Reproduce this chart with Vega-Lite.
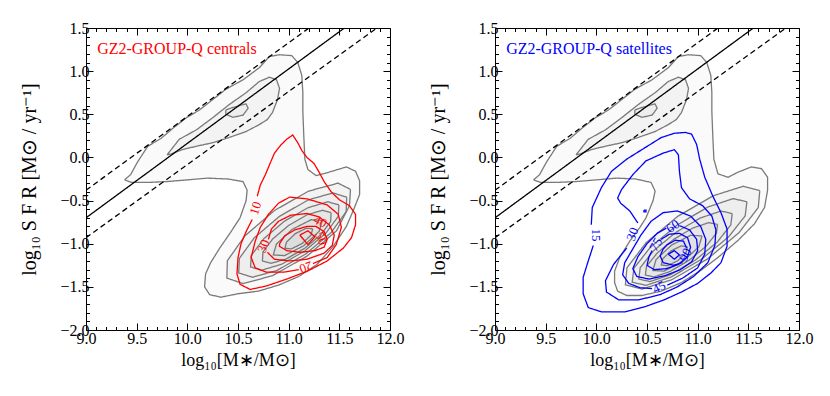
{
"$schema": "https://vega.github.io/schema/vega-lite/v6.json",
"padding": {"left": 19, "top": 19, "right": 5, "bottom": 5},
"background": "white",
"spacing": 23,
"config": {"view": {"stroke": "#000", "strokeWidth": 1}, "font": "Liberation Serif"},
"datasets": {
"lines": [
{"p":"L","g":"L1","k":"gray","v":1,"x":9.38,"y":-0.26},{"p":"L","g":"L1","k":"gray","v":1,"x":9.44,"y":-0.20},{"p":"L","g":"L1","k":"gray","v":1,"x":9.51,"y":-0.05},{"p":"L","g":"L1","k":"gray","v":1,"x":9.61,"y":0.13},{"p":"L","g":"L1","k":"gray","v":1,"x":9.74,"y":0.22},{"p":"L","g":"L1","k":"gray","v":1,"x":9.86,"y":0.34},{"p":"L","g":"L1","k":"gray","v":1,"x":9.99,"y":0.46},{"p":"L","g":"L1","k":"gray","v":1,"x":10.12,"y":0.55},{"p":"L","g":"L1","k":"gray","v":1,"x":10.25,"y":0.67},{"p":"L","g":"L1","k":"gray","v":1,"x":10.38,"y":0.79},{"p":"L","g":"L1","k":"gray","v":1,"x":10.55,"y":0.90},{"p":"L","g":"L1","k":"gray","v":1,"x":10.71,"y":1.04},{"p":"L","g":"L1","k":"gray","v":1,"x":10.81,"y":1.17},{"p":"L","g":"L1","k":"gray","v":1,"x":10.91,"y":1.19},{"p":"L","g":"L1","k":"gray","v":1,"x":11.03,"y":1.18},{"p":"L","g":"L1","k":"gray","v":1,"x":11.09,"y":1.10},{"p":"L","g":"L1","k":"gray","v":1,"x":11.13,"y":0.95},{"p":"L","g":"L1","k":"gray","v":1,"x":11.14,"y":0.75},{"p":"L","g":"L1","k":"gray","v":1,"x":11.14,"y":0.53},{"p":"L","g":"L1","k":"gray","v":1,"x":11.15,"y":0.23},{"p":"L","g":"L1","k":"gray","v":1,"x":11.16,"y":-0.02},{"p":"L","g":"L1","k":"gray","v":1,"x":11.19,"y":-0.14},{"p":"L","g":"L1","k":"gray","v":1,"x":11.27,"y":-0.21},{"p":"L","g":"L1","k":"gray","v":1,"x":11.40,"y":-0.17},{"p":"L","g":"L1","k":"gray","v":1,"x":11.57,"y":-0.11},{"p":"L","g":"L1","k":"gray","v":1,"x":11.66,"y":-0.16},{"p":"L","g":"L1","k":"gray","v":1,"x":11.70,"y":-0.27},{"p":"L","g":"L1","k":"gray","v":1,"x":11.70,"y":-0.43},{"p":"L","g":"L1","k":"gray","v":1,"x":11.65,"y":-0.58},{"p":"L","g":"L1","k":"gray","v":1,"x":11.57,"y":-0.80},{"p":"L","g":"L1","k":"gray","v":1,"x":11.44,"y":-1.03},{"p":"L","g":"L1","k":"gray","v":1,"x":11.28,"y":-1.24},{"p":"L","g":"L1","k":"gray","v":1,"x":11.10,"y":-1.38},{"p":"L","g":"L1","k":"gray","v":1,"x":10.90,"y":-1.48},{"p":"L","g":"L1","k":"gray","v":1,"x":10.70,"y":-1.55},{"p":"L","g":"L1","k":"gray","v":1,"x":10.50,"y":-1.58},{"p":"L","g":"L1","k":"gray","v":1,"x":10.33,"y":-1.62},{"p":"L","g":"L1","k":"gray","v":1,"x":10.22,"y":-1.59},{"p":"L","g":"L1","k":"gray","v":1,"x":10.17,"y":-1.50},{"p":"L","g":"L1","k":"gray","v":1,"x":10.18,"y":-1.35},{"p":"L","g":"L1","k":"gray","v":1,"x":10.23,"y":-1.22},{"p":"L","g":"L1","k":"gray","v":1,"x":10.32,"y":-1.05},{"p":"L","g":"L1","k":"gray","v":1,"x":10.42,"y":-0.88},{"p":"L","g":"L1","k":"gray","v":1,"x":10.52,"y":-0.70},{"p":"L","g":"L1","k":"gray","v":1,"x":10.58,"y":-0.50},{"p":"L","g":"L1","k":"gray","v":1,"x":10.59,"y":-0.38},{"p":"L","g":"L1","k":"gray","v":1,"x":10.55,"y":-0.28},{"p":"L","g":"L1","k":"gray","v":1,"x":10.40,"y":-0.25},{"p":"L","g":"L1","k":"gray","v":1,"x":10.20,"y":-0.24},{"p":"L","g":"L1","k":"gray","v":1,"x":10.00,"y":-0.26},{"p":"L","g":"L1","k":"gray","v":1,"x":9.80,"y":-0.28},{"p":"L","g":"L1","k":"gray","v":1,"x":9.60,"y":-0.29},{"p":"L","g":"L1","k":"gray","v":1,"x":9.45,"y":-0.29},{"p":"L","g":"L1","k":"gray","v":1,"x":9.38,"y":-0.26},
{"p":"R","g":"R1","k":"gray","v":1,"x":9.38,"y":-0.26},{"p":"R","g":"R1","k":"gray","v":1,"x":9.44,"y":-0.20},{"p":"R","g":"R1","k":"gray","v":1,"x":9.51,"y":-0.05},{"p":"R","g":"R1","k":"gray","v":1,"x":9.61,"y":0.13},{"p":"R","g":"R1","k":"gray","v":1,"x":9.74,"y":0.22},{"p":"R","g":"R1","k":"gray","v":1,"x":9.86,"y":0.34},{"p":"R","g":"R1","k":"gray","v":1,"x":9.99,"y":0.46},{"p":"R","g":"R1","k":"gray","v":1,"x":10.12,"y":0.55},{"p":"R","g":"R1","k":"gray","v":1,"x":10.25,"y":0.67},{"p":"R","g":"R1","k":"gray","v":1,"x":10.38,"y":0.79},{"p":"R","g":"R1","k":"gray","v":1,"x":10.55,"y":0.90},{"p":"R","g":"R1","k":"gray","v":1,"x":10.71,"y":1.04},{"p":"R","g":"R1","k":"gray","v":1,"x":10.81,"y":1.17},{"p":"R","g":"R1","k":"gray","v":1,"x":10.91,"y":1.19},{"p":"R","g":"R1","k":"gray","v":1,"x":11.03,"y":1.18},{"p":"R","g":"R1","k":"gray","v":1,"x":11.09,"y":1.10},{"p":"R","g":"R1","k":"gray","v":1,"x":11.13,"y":0.95},{"p":"R","g":"R1","k":"gray","v":1,"x":11.14,"y":0.75},{"p":"R","g":"R1","k":"gray","v":1,"x":11.14,"y":0.53},{"p":"R","g":"R1","k":"gray","v":1,"x":11.15,"y":0.23},{"p":"R","g":"R1","k":"gray","v":1,"x":11.16,"y":-0.02},{"p":"R","g":"R1","k":"gray","v":1,"x":11.20,"y":-0.19},{"p":"R","g":"R1","k":"gray","v":1,"x":11.30,"y":-0.23},{"p":"R","g":"R1","k":"gray","v":1,"x":11.40,"y":-0.17},{"p":"R","g":"R1","k":"gray","v":1,"x":11.53,"y":-0.11},{"p":"R","g":"R1","k":"gray","v":1,"x":11.63,"y":-0.13},{"p":"R","g":"R1","k":"gray","v":1,"x":11.69,"y":-0.23},{"p":"R","g":"R1","k":"gray","v":1,"x":11.69,"y":-0.38},{"p":"R","g":"R1","k":"gray","v":1,"x":11.66,"y":-0.58},{"p":"R","g":"R1","k":"gray","v":1,"x":11.56,"y":-0.77},{"p":"R","g":"R1","k":"gray","v":1,"x":11.40,"y":-0.96},{"p":"R","g":"R1","k":"gray","v":1,"x":11.20,"y":-1.16},{"p":"R","g":"R1","k":"gray","v":1,"x":11.03,"y":-1.31},{"p":"R","g":"R1","k":"gray","v":1,"x":10.84,"y":-1.45},{"p":"R","g":"R1","k":"gray","v":1,"x":10.64,"y":-1.55},{"p":"R","g":"R1","k":"gray","v":1,"x":10.45,"y":-1.60},{"p":"R","g":"R1","k":"gray","v":1,"x":10.30,"y":-1.60},{"p":"R","g":"R1","k":"gray","v":1,"x":10.21,"y":-1.55},{"p":"R","g":"R1","k":"gray","v":1,"x":10.18,"y":-1.45},{"p":"R","g":"R1","k":"gray","v":1,"x":10.18,"y":-1.32},{"p":"R","g":"R1","k":"gray","v":1,"x":10.23,"y":-1.16},{"p":"R","g":"R1","k":"gray","v":1,"x":10.33,"y":-0.97},{"p":"R","g":"R1","k":"gray","v":1,"x":10.43,"y":-0.81},{"p":"R","g":"R1","k":"gray","v":1,"x":10.49,"y":-0.70},{"p":"R","g":"R1","k":"gray","v":1,"x":10.56,"y":-0.50},{"p":"R","g":"R1","k":"gray","v":1,"x":10.58,"y":-0.39},{"p":"R","g":"R1","k":"gray","v":1,"x":10.54,"y":-0.29},{"p":"R","g":"R1","k":"gray","v":1,"x":10.39,"y":-0.25},{"p":"R","g":"R1","k":"gray","v":1,"x":10.20,"y":-0.24},{"p":"R","g":"R1","k":"gray","v":1,"x":10.00,"y":-0.26},{"p":"R","g":"R1","k":"gray","v":1,"x":9.80,"y":-0.28},{"p":"R","g":"R1","k":"gray","v":1,"x":9.60,"y":-0.29},{"p":"R","g":"R1","k":"gray","v":1,"x":9.45,"y":-0.29},{"p":"R","g":"R1","k":"gray","v":1,"x":9.38,"y":-0.26},
{"p":"B","g":"A2","k":"gray","v":2,"x":9.80,"y":0.03},{"p":"B","g":"A2","k":"gray","v":2,"x":9.86,"y":0.12},{"p":"B","g":"A2","k":"gray","v":2,"x":9.92,"y":0.21},{"p":"B","g":"A2","k":"gray","v":2,"x":10.09,"y":0.32},{"p":"B","g":"A2","k":"gray","v":2,"x":10.25,"y":0.46},{"p":"B","g":"A2","k":"gray","v":2,"x":10.41,"y":0.61},{"p":"B","g":"A2","k":"gray","v":2,"x":10.58,"y":0.75},{"p":"B","g":"A2","k":"gray","v":2,"x":10.71,"y":0.88},{"p":"B","g":"A2","k":"gray","v":2,"x":10.81,"y":0.93},{"p":"B","g":"A2","k":"gray","v":2,"x":10.88,"y":0.90},{"p":"B","g":"A2","k":"gray","v":2,"x":10.91,"y":0.80},{"p":"B","g":"A2","k":"gray","v":2,"x":10.89,"y":0.67},{"p":"B","g":"A2","k":"gray","v":2,"x":10.84,"y":0.52},{"p":"B","g":"A2","k":"gray","v":2,"x":10.79,"y":0.44},{"p":"B","g":"A2","k":"gray","v":2,"x":10.71,"y":0.38},{"p":"B","g":"A2","k":"gray","v":2,"x":10.58,"y":0.30},{"p":"B","g":"A2","k":"gray","v":2,"x":10.41,"y":0.23},{"p":"B","g":"A2","k":"gray","v":2,"x":10.25,"y":0.17},{"p":"B","g":"A2","k":"gray","v":2,"x":10.09,"y":0.13},{"p":"B","g":"A2","k":"gray","v":2,"x":9.95,"y":0.09},{"p":"B","g":"A2","k":"gray","v":2,"x":9.84,"y":0.04},{"p":"B","g":"A2","k":"gray","v":2,"x":9.80,"y":0.03},
{"p":"B","g":"A3","k":"gray","v":3,"x":10.38,"y":0.55},{"p":"B","g":"A3","k":"gray","v":3,"x":10.45,"y":0.58},{"p":"B","g":"A3","k":"gray","v":3,"x":10.58,"y":0.62},{"p":"B","g":"A3","k":"gray","v":3,"x":10.60,"y":0.57},{"p":"B","g":"A3","k":"gray","v":3,"x":10.55,"y":0.49},{"p":"B","g":"A3","k":"gray","v":3,"x":10.45,"y":0.465},{"p":"B","g":"A3","k":"gray","v":3,"x":10.38,"y":0.50},{"p":"B","g":"A3","k":"gray","v":3,"x":10.38,"y":0.55},
{"p":"L","g":"LG2","k":"gray","v":2,"x":11.61,"y":-0.37},{"p":"L","g":"LG2","k":"gray","v":2,"x":11.60,"y":-0.56},{"p":"L","g":"LG2","k":"gray","v":2,"x":11.472,"y":-0.851},{"p":"L","g":"LG2","k":"gray","v":2,"x":11.179,"y":-1.146},{"p":"L","g":"LG2","k":"gray","v":2,"x":10.842,"y":-1.370},{"p":"L","g":"LG2","k":"gray","v":2,"x":10.553,"y":-1.462},{"p":"L","g":"LG2","k":"gray","v":2,"x":10.390,"y":-1.399},{"p":"L","g":"LG2","k":"gray","v":2,"x":10.395,"y":-1.197},{"p":"L","g":"LG2","k":"gray","v":2,"x":10.568,"y":-0.909},{"p":"L","g":"LG2","k":"gray","v":2,"x":10.861,"y":-0.614},{"p":"L","g":"LG2","k":"gray","v":2,"x":11.198,"y":-0.390},{"p":"L","g":"LG2","k":"gray","v":2,"x":11.487,"y":-0.298},{"p":"L","g":"LG2","k":"gray","v":2,"x":11.61,"y":-0.37},
{"p":"L","g":"LG3","k":"gray","v":3,"x":11.573,"y":-0.461},{"p":"L","g":"LG3","k":"gray","v":3,"x":11.567,"y":-0.629},{"p":"L","g":"LG3","k":"gray","v":3,"x":11.420,"y":-0.870},{"p":"L","g":"LG3","k":"gray","v":3,"x":11.170,"y":-1.118},{"p":"L","g":"LG3","k":"gray","v":3,"x":10.886,"y":-1.309},{"p":"L","g":"LG3","k":"gray","v":3,"x":10.643,"y":-1.389},{"p":"L","g":"LG3","k":"gray","v":3,"x":10.507,"y":-1.339},{"p":"L","g":"LG3","k":"gray","v":3,"x":10.513,"y":-1.171},{"p":"L","g":"LG3","k":"gray","v":3,"x":10.661,"y":-0.931},{"p":"L","g":"LG3","k":"gray","v":3,"x":10.910,"y":-0.682},{"p":"L","g":"LG3","k":"gray","v":3,"x":11.194,"y":-0.492},{"p":"L","g":"LG3","k":"gray","v":3,"x":11.437,"y":-0.411},{"p":"L","g":"LG3","k":"gray","v":3,"x":11.573,"y":-0.461},
{"p":"L","g":"LG4","k":"gray","v":4,"x":11.496,"y":-0.551},{"p":"L","g":"LG4","k":"gray","v":4,"x":11.489,"y":-0.684},{"p":"L","g":"LG4","k":"gray","v":4,"x":11.367,"y":-0.878},{"p":"L","g":"LG4","k":"gray","v":4,"x":11.162,"y":-1.081},{"p":"L","g":"LG4","k":"gray","v":4,"x":10.930,"y":-1.238},{"p":"L","g":"LG4","k":"gray","v":4,"x":10.733,"y":-1.307},{"p":"L","g":"LG4","k":"gray","v":4,"x":10.624,"y":-1.269},{"p":"L","g":"LG4","k":"gray","v":4,"x":10.631,"y":-1.136},{"p":"L","g":"LG4","k":"gray","v":4,"x":10.754,"y":-0.942},{"p":"L","g":"LG4","k":"gray","v":4,"x":10.958,"y":-0.739},{"p":"L","g":"LG4","k":"gray","v":4,"x":11.190,"y":-0.583},{"p":"L","g":"LG4","k":"gray","v":4,"x":11.387,"y":-0.514},{"p":"L","g":"LG4","k":"gray","v":4,"x":11.496,"y":-0.551},
{"p":"L","g":"LG5","k":"gray","v":5,"x":11.419,"y":-0.641},{"p":"L","g":"LG5","k":"gray","v":5,"x":11.414,"y":-0.744},{"p":"L","g":"LG5","k":"gray","v":5,"x":11.318,"y":-0.895},{"p":"L","g":"LG5","k":"gray","v":5,"x":11.159,"y":-1.053},{"p":"L","g":"LG5","k":"gray","v":5,"x":10.979,"y":-1.175},{"p":"L","g":"LG5","k":"gray","v":5,"x":10.826,"y":-1.228},{"p":"L","g":"LG5","k":"gray","v":5,"x":10.741,"y":-1.199},{"p":"L","g":"LG5","k":"gray","v":5,"x":10.746,"y":-1.096},{"p":"L","g":"LG5","k":"gray","v":5,"x":10.842,"y":-0.945},{"p":"L","g":"LG5","k":"gray","v":5,"x":11.001,"y":-0.787},{"p":"L","g":"LG5","k":"gray","v":5,"x":11.181,"y":-0.665},{"p":"L","g":"LG5","k":"gray","v":5,"x":11.334,"y":-0.612},{"p":"L","g":"LG5","k":"gray","v":5,"x":11.419,"y":-0.641},
{"p":"L","g":"LG6","k":"gray","v":6,"x":11.333,"y":-0.730},{"p":"L","g":"LG6","k":"gray","v":6,"x":11.301,"y":-0.856},{"p":"L","g":"LG6","k":"gray","v":6,"x":11.147,"y":-1.025},{"p":"L","g":"LG6","k":"gray","v":6,"x":10.959,"y":-1.138},{"p":"L","g":"LG6","k":"gray","v":6,"x":10.848,"y":-1.130},{"p":"L","g":"LG6","k":"gray","v":6,"x":10.879,"y":-1.004},{"p":"L","g":"LG6","k":"gray","v":6,"x":11.033,"y":-0.835},{"p":"L","g":"LG6","k":"gray","v":6,"x":11.221,"y":-0.722},{"p":"L","g":"LG6","k":"gray","v":6,"x":11.333,"y":-0.730},
{"p":"L","g":"LG7","k":"gray","v":7,"x":11.237,"y":-0.827},{"p":"L","g":"LG7","k":"gray","v":7,"x":11.221,"y":-0.900},{"p":"L","g":"LG7","k":"gray","v":7,"x":11.134,"y":-0.997},{"p":"L","g":"LG7","k":"gray","v":7,"x":11.027,"y":-1.060},{"p":"L","g":"LG7","k":"gray","v":7,"x":10.963,"y":-1.053},{"p":"L","g":"LG7","k":"gray","v":7,"x":10.979,"y":-0.980},{"p":"L","g":"LG7","k":"gray","v":7,"x":11.066,"y":-0.883},{"p":"L","g":"LG7","k":"gray","v":7,"x":11.173,"y":-0.820},{"p":"L","g":"LG7","k":"gray","v":7,"x":11.237,"y":-0.827},
{"p":"R","g":"RG2","k":"gray","v":2,"x":11.613,"y":-0.385},{"p":"R","g":"RG2","k":"gray","v":2,"x":11.598,"y":-0.581},{"p":"R","g":"RG2","k":"gray","v":2,"x":11.409,"y":-0.871},{"p":"R","g":"RG2","k":"gray","v":2,"x":11.097,"y":-1.177},{"p":"R","g":"RG2","k":"gray","v":2,"x":10.746,"y":-1.417},{"p":"R","g":"RG2","k":"gray","v":2,"x":10.450,"y":-1.526},{"p":"R","g":"RG2","k":"gray","v":2,"x":10.287,"y":-1.476},{"p":"R","g":"RG2","k":"gray","v":2,"x":10.302,"y":-1.279},{"p":"R","g":"RG2","k":"gray","v":2,"x":10.491,"y":-0.989},{"p":"R","g":"RG2","k":"gray","v":2,"x":10.803,"y":-0.683},{"p":"R","g":"RG2","k":"gray","v":2,"x":11.154,"y":-0.444},{"p":"R","g":"RG2","k":"gray","v":2,"x":11.450,"y":-0.334},{"p":"R","g":"RG2","k":"gray","v":2,"x":11.613,"y":-0.385},
{"p":"R","g":"RG3","k":"gray","v":3,"x":11.486,"y":-0.514},{"p":"R","g":"RG3","k":"gray","v":3,"x":11.469,"y":-0.677},{"p":"R","g":"RG3","k":"gray","v":3,"x":11.306,"y":-0.920},{"p":"R","g":"RG3","k":"gray","v":3,"x":11.039,"y":-1.179},{"p":"R","g":"RG3","k":"gray","v":3,"x":10.740,"y":-1.385},{"p":"R","g":"RG3","k":"gray","v":3,"x":10.490,"y":-1.483},{"p":"R","g":"RG3","k":"gray","v":3,"x":10.354,"y":-1.446},{"p":"R","g":"RG3","k":"gray","v":3,"x":10.371,"y":-1.284},{"p":"R","g":"RG3","k":"gray","v":3,"x":10.534,"y":-1.040},{"p":"R","g":"RG3","k":"gray","v":3,"x":10.801,"y":-0.781},{"p":"R","g":"RG3","k":"gray","v":3,"x":11.100,"y":-0.575},{"p":"R","g":"RG3","k":"gray","v":3,"x":11.350,"y":-0.477},{"p":"R","g":"RG3","k":"gray","v":3,"x":11.486,"y":-0.514},
{"p":"R","g":"RG4","k":"gray","v":4,"x":11.341,"y":-0.651},{"p":"R","g":"RG4","k":"gray","v":4,"x":11.327,"y":-0.782},{"p":"R","g":"RG4","k":"gray","v":4,"x":11.194,"y":-0.980},{"p":"R","g":"RG4","k":"gray","v":4,"x":10.976,"y":-1.191},{"p":"R","g":"RG4","k":"gray","v":4,"x":10.733,"y":-1.359},{"p":"R","g":"RG4","k":"gray","v":4,"x":10.529,"y":-1.439},{"p":"R","g":"RG4","k":"gray","v":4,"x":10.419,"y":-1.409},{"p":"R","g":"RG4","k":"gray","v":4,"x":10.433,"y":-1.278},{"p":"R","g":"RG4","k":"gray","v":4,"x":10.566,"y":-1.080},{"p":"R","g":"RG4","k":"gray","v":4,"x":10.784,"y":-0.869},{"p":"R","g":"RG4","k":"gray","v":4,"x":11.027,"y":-0.701},{"p":"R","g":"RG4","k":"gray","v":4,"x":11.231,"y":-0.621},{"p":"R","g":"RG4","k":"gray","v":4,"x":11.341,"y":-0.651},
{"p":"R","g":"RG5","k":"gray","v":5,"x":11.196,"y":-0.777},{"p":"R","g":"RG5","k":"gray","v":5,"x":11.185,"y":-0.878},{"p":"R","g":"RG5","k":"gray","v":5,"x":11.082,"y":-1.031},{"p":"R","g":"RG5","k":"gray","v":5,"x":10.914,"y":-1.193},{"p":"R","g":"RG5","k":"gray","v":5,"x":10.726,"y":-1.323},{"p":"R","g":"RG5","k":"gray","v":5,"x":10.569,"y":-1.385},{"p":"R","g":"RG5","k":"gray","v":5,"x":10.484,"y":-1.363},{"p":"R","g":"RG5","k":"gray","v":5,"x":10.495,"y":-1.262},{"p":"R","g":"RG5","k":"gray","v":5,"x":10.599,"y":-1.110},{"p":"R","g":"RG5","k":"gray","v":5,"x":10.766,"y":-0.947},{"p":"R","g":"RG5","k":"gray","v":5,"x":10.954,"y":-0.817},{"p":"R","g":"RG5","k":"gray","v":5,"x":11.111,"y":-0.755},{"p":"R","g":"RG5","k":"gray","v":5,"x":11.196,"y":-0.777},
{"p":"R","g":"RG6","k":"gray","v":6,"x":11.043,"y":-0.910},{"p":"R","g":"RG6","k":"gray","v":6,"x":11.011,"y":-1.036},{"p":"R","g":"RG6","k":"gray","v":6,"x":10.857,"y":-1.205},{"p":"R","g":"RG6","k":"gray","v":6,"x":10.669,"y":-1.318},{"p":"R","g":"RG6","k":"gray","v":6,"x":10.558,"y":-1.310},{"p":"R","g":"RG6","k":"gray","v":6,"x":10.589,"y":-1.184},{"p":"R","g":"RG6","k":"gray","v":6,"x":10.743,"y":-1.015},{"p":"R","g":"RG6","k":"gray","v":6,"x":10.931,"y":-0.902},{"p":"R","g":"RG6","k":"gray","v":6,"x":11.043,"y":-0.910},
{"p":"R","g":"RG7","k":"gray","v":7,"x":10.899,"y":-1.034},{"p":"R","g":"RG7","k":"gray","v":7,"x":10.885,"y":-1.105},{"p":"R","g":"RG7","k":"gray","v":7,"x":10.804,"y":-1.197},{"p":"R","g":"RG7","k":"gray","v":7,"x":10.703,"y":-1.255},{"p":"R","g":"RG7","k":"gray","v":7,"x":10.641,"y":-1.246},{"p":"R","g":"RG7","k":"gray","v":7,"x":10.655,"y":-1.175},{"p":"R","g":"RG7","k":"gray","v":7,"x":10.736,"y":-1.083},{"p":"R","g":"RG7","k":"gray","v":7,"x":10.837,"y":-1.025},{"p":"R","g":"RG7","k":"gray","v":7,"x":10.899,"y":-1.034},
{"p":"B","g":"S","k":"solid","v":0,"x":9.0,"y":-0.70},{"p":"B","g":"S","k":"solid","v":0,"x":11.55,"y":1.5},
{"p":"B","g":"D1","k":"dash","v":0,"x":9.0,"y":-0.38},{"p":"B","g":"D1","k":"dash","v":0,"x":11.2,"y":1.5},
{"p":"B","g":"D2","k":"dash","v":0,"x":9.0,"y":-0.93},{"p":"B","g":"D2","k":"dash","v":0,"x":11.87,"y":1.5},
{"p":"L","g":"r10","k":"red","v":0,"x":10.64,"y":-0.72},{"p":"L","g":"r10","k":"red","v":0,"x":10.58,"y":-0.86},{"p":"L","g":"r10","k":"red","v":0,"x":10.53,"y":-1.00},{"p":"L","g":"r10","k":"red","v":0,"x":10.50,"y":-1.16},{"p":"L","g":"r10","k":"red","v":0,"x":10.49,"y":-1.35},{"p":"L","g":"r10","k":"red","v":0,"x":10.52,"y":-1.47},{"p":"L","g":"r10","k":"red","v":0,"x":10.62,"y":-1.53},{"p":"L","g":"r10","k":"red","v":0,"x":10.78,"y":-1.49},{"p":"L","g":"r10","k":"red","v":0,"x":10.98,"y":-1.41},{"p":"L","g":"r10","k":"red","v":0,"x":11.18,"y":-1.32},{"p":"L","g":"r10","k":"red","v":0,"x":11.38,"y":-1.20},{"p":"L","g":"r10","k":"red","v":0,"x":11.54,"y":-1.05},{"p":"L","g":"r10","k":"red","v":0,"x":11.62,"y":-0.93},{"p":"L","g":"r10","k":"red","v":0,"x":11.66,"y":-0.78},{"p":"L","g":"r10","k":"red","v":0,"x":11.66,"y":-0.66},{"p":"L","g":"r10","k":"red","v":0,"x":11.60,"y":-0.56},{"p":"L","g":"r10","k":"red","v":0,"x":11.50,"y":-0.49},{"p":"L","g":"r10","k":"red","v":0,"x":11.42,"y":-0.40},{"p":"L","g":"r10","k":"red","v":0,"x":11.35,"y":-0.28},{"p":"L","g":"r10","k":"red","v":0,"x":11.30,"y":-0.17},{"p":"L","g":"r10","k":"red","v":0,"x":11.25,"y":-0.07},{"p":"L","g":"r10","k":"red","v":0,"x":11.18,"y":0.00},{"p":"L","g":"r10","k":"red","v":0,"x":11.13,"y":0.08},{"p":"L","g":"r10","k":"red","v":0,"x":11.09,"y":0.17},{"p":"L","g":"r10","k":"red","v":0,"x":11.04,"y":0.26},{"p":"L","g":"r10","k":"red","v":0,"x":10.98,"y":0.21},{"p":"L","g":"r10","k":"red","v":0,"x":10.92,"y":0.14},{"p":"L","g":"r10","k":"red","v":0,"x":10.86,"y":0.05},{"p":"L","g":"r10","k":"red","v":0,"x":10.82,"y":-0.06},{"p":"L","g":"r10","k":"red","v":0,"x":10.77,"y":-0.20},{"p":"L","g":"r10","k":"red","v":0,"x":10.72,"y":-0.32},{"p":"L","g":"r10","k":"red","v":0,"x":10.69,"y":-0.45},
{"p":"L","g":"r20","k":"red","v":0,"x":11.24,"y":-1.23},{"p":"L","g":"r20","k":"red","v":0,"x":11.38,"y":-1.16},{"p":"L","g":"r20","k":"red","v":0,"x":11.47,"y":-1.01},{"p":"L","g":"r20","k":"red","v":0,"x":11.52,"y":-0.81},{"p":"L","g":"r20","k":"red","v":0,"x":11.49,"y":-0.66},{"p":"L","g":"r20","k":"red","v":0,"x":11.38,"y":-0.55},{"p":"L","g":"r20","k":"red","v":0,"x":11.18,"y":-0.48},{"p":"L","g":"r20","k":"red","v":0,"x":11.01,"y":-0.46},{"p":"L","g":"r20","k":"red","v":0,"x":10.90,"y":-0.53},{"p":"L","g":"r20","k":"red","v":0,"x":10.80,"y":-0.66},{"p":"L","g":"r20","k":"red","v":0,"x":10.72,"y":-0.81},{"p":"L","g":"r20","k":"red","v":0,"x":10.67,"y":-0.97},{"p":"L","g":"r20","k":"red","v":0,"x":10.63,"y":-1.16},{"p":"L","g":"r20","k":"red","v":0,"x":10.67,"y":-1.28},{"p":"L","g":"r20","k":"red","v":0,"x":10.78,"y":-1.33},{"p":"L","g":"r20","k":"red","v":0,"x":10.95,"y":-1.33},{"p":"L","g":"r20","k":"red","v":0,"x":11.10,"y":-1.30},
{"p":"L","g":"r30","k":"red","v":0,"x":10.80,"y":-0.95},{"p":"L","g":"r30","k":"red","v":0,"x":10.83,"y":-0.83},{"p":"L","g":"r30","k":"red","v":0,"x":10.90,"y":-0.74},{"p":"L","g":"r30","k":"red","v":0,"x":11.02,"y":-0.67},{"p":"L","g":"r30","k":"red","v":0,"x":11.18,"y":-0.65},{"p":"L","g":"r30","k":"red","v":0,"x":11.30,"y":-0.69},{"p":"L","g":"r30","k":"red","v":0,"x":11.40,"y":-0.78},{"p":"L","g":"r30","k":"red","v":0,"x":11.45,"y":-0.90},{"p":"L","g":"r30","k":"red","v":0,"x":11.43,"y":-1.02},{"p":"L","g":"r30","k":"red","v":0,"x":11.35,"y":-1.11},{"p":"L","g":"r30","k":"red","v":0,"x":11.18,"y":-1.18},{"p":"L","g":"r30","k":"red","v":0,"x":11.01,"y":-1.20},{"p":"L","g":"r30","k":"red","v":0,"x":10.86,"y":-1.18},{"p":"L","g":"r30","k":"red","v":0,"x":10.79,"y":-1.10},
{"p":"L","g":"r40","k":"red","v":0,"x":10.91,"y":-1.00},{"p":"L","g":"r40","k":"red","v":0,"x":10.96,"y":-0.91},{"p":"L","g":"r40","k":"red","v":0,"x":11.06,"y":-0.84},{"p":"L","g":"r40","k":"red","v":0,"x":11.18,"y":-0.80},{"p":"L","g":"r40","k":"red","v":0,"x":11.27,"y":-0.80},{"p":"L","g":"r40","k":"red","v":0,"x":11.35,"y":-0.86},{"p":"L","g":"r40","k":"red","v":0,"x":11.38,"y":-0.95},{"p":"L","g":"r40","k":"red","v":0,"x":11.35,"y":-1.04},{"p":"L","g":"r40","k":"red","v":0,"x":11.26,"y":-1.08},{"p":"L","g":"r40","k":"red","v":0,"x":11.11,"y":-1.10},{"p":"L","g":"r40","k":"red","v":0,"x":10.98,"y":-1.08},{"p":"L","g":"r40","k":"red","v":0,"x":10.91,"y":-1.03},{"p":"L","g":"r40","k":"red","v":0,"x":10.91,"y":-1.00},
{"p":"L","g":"r50","k":"red","v":0,"x":11.11,"y":-0.90},{"p":"L","g":"r50","k":"red","v":0,"x":11.19,"y":-0.85},{"p":"L","g":"r50","k":"red","v":0,"x":11.26,"y":-0.92},{"p":"L","g":"r50","k":"red","v":0,"x":11.19,"y":-1.01},{"p":"L","g":"r50","k":"red","v":0,"x":11.11,"y":-0.90},
{"p":"R","g":"b15","k":"blue","v":0,"x":9.97,"y":-1.02},{"p":"R","g":"b15","k":"blue","v":0,"x":9.92,"y":-1.20},{"p":"R","g":"b15","k":"blue","v":0,"x":9.87,"y":-1.39},{"p":"R","g":"b15","k":"blue","v":0,"x":9.87,"y":-1.58},{"p":"R","g":"b15","k":"blue","v":0,"x":9.92,"y":-1.74},{"p":"R","g":"b15","k":"blue","v":0,"x":10.05,"y":-1.79},{"p":"R","g":"b15","k":"blue","v":0,"x":10.28,"y":-1.79},{"p":"R","g":"b15","k":"blue","v":0,"x":10.48,"y":-1.73},{"p":"R","g":"b15","k":"blue","v":0,"x":10.67,"y":-1.65},{"p":"R","g":"b15","k":"blue","v":0,"x":10.84,"y":-1.56},{"p":"R","g":"b15","k":"blue","v":0,"x":11.00,"y":-1.46},{"p":"R","g":"b15","k":"blue","v":0,"x":11.13,"y":-1.34},{"p":"R","g":"b15","k":"blue","v":0,"x":11.23,"y":-1.22},{"p":"R","g":"b15","k":"blue","v":0,"x":11.29,"y":-1.03},{"p":"R","g":"b15","k":"blue","v":0,"x":11.29,"y":-0.83},{"p":"R","g":"b15","k":"blue","v":0,"x":11.23,"y":-0.64},{"p":"R","g":"b15","k":"blue","v":0,"x":11.15,"y":-0.45},{"p":"R","g":"b15","k":"blue","v":0,"x":11.07,"y":-0.23},{"p":"R","g":"b15","k":"blue","v":0,"x":11.02,"y":-0.02},{"p":"R","g":"b15","k":"blue","v":0,"x":10.99,"y":0.15},{"p":"R","g":"b15","k":"blue","v":0,"x":10.94,"y":0.27},{"p":"R","g":"b15","k":"blue","v":0,"x":10.88,"y":0.29},{"p":"R","g":"b15","k":"blue","v":0,"x":10.77,"y":0.28},{"p":"R","g":"b15","k":"blue","v":0,"x":10.64,"y":0.23},{"p":"R","g":"b15","k":"blue","v":0,"x":10.49,"y":0.12},{"p":"R","g":"b15","k":"blue","v":0,"x":10.30,"y":-0.02},{"p":"R","g":"b15","k":"blue","v":0,"x":10.15,"y":-0.16},{"p":"R","g":"b15","k":"blue","v":0,"x":10.05,"y":-0.35},{"p":"R","g":"b15","k":"blue","v":0,"x":9.96,"y":-0.58},{"p":"R","g":"b15","k":"blue","v":0,"x":9.95,"y":-0.78},
{"p":"R","g":"b30","k":"blue","v":0,"x":10.41,"y":-0.76},{"p":"R","g":"b30","k":"blue","v":0,"x":10.33,"y":-0.62},{"p":"R","g":"b30","k":"blue","v":0,"x":10.24,"y":-0.53},{"p":"R","g":"b30","k":"blue","v":0,"x":10.21,"y":-0.47},{"p":"R","g":"b30","k":"blue","v":0,"x":10.25,"y":-0.37},{"p":"R","g":"b30","k":"blue","v":0,"x":10.36,"y":-0.20},{"p":"R","g":"b30","k":"blue","v":0,"x":10.49,"y":-0.04},{"p":"R","g":"b30","k":"blue","v":0,"x":10.66,"y":0.05},{"p":"R","g":"b30","k":"blue","v":0,"x":10.77,"y":0.09},{"p":"R","g":"b30","k":"blue","v":0,"x":10.81,"y":0.03},{"p":"R","g":"b30","k":"blue","v":0,"x":10.82,"y":-0.16},{"p":"R","g":"b30","k":"blue","v":0,"x":10.84,"y":-0.35},{"p":"R","g":"b30","k":"blue","v":0,"x":10.92,"y":-0.48},{"p":"R","g":"b30","k":"blue","v":0,"x":11.05,"y":-0.56},{"p":"R","g":"b30","k":"blue","v":0,"x":11.14,"y":-0.68},{"p":"R","g":"b30","k":"blue","v":0,"x":11.18,"y":-0.84},{"p":"R","g":"b30","k":"blue","v":0,"x":11.17,"y":-1.02},{"p":"R","g":"b30","k":"blue","v":0,"x":11.10,"y":-1.22},{"p":"R","g":"b30","k":"blue","v":0,"x":10.96,"y":-1.38},{"p":"R","g":"b30","k":"blue","v":0,"x":10.80,"y":-1.50},{"p":"R","g":"b30","k":"blue","v":0,"x":10.63,"y":-1.59},{"p":"R","g":"b30","k":"blue","v":0,"x":10.42,"y":-1.65},{"p":"R","g":"b30","k":"blue","v":0,"x":10.22,"y":-1.65},{"p":"R","g":"b30","k":"blue","v":0,"x":10.10,"y":-1.56},{"p":"R","g":"b30","k":"blue","v":0,"x":10.09,"y":-1.43},{"p":"R","g":"b30","k":"blue","v":0,"x":10.17,"y":-1.24},{"p":"R","g":"b30","k":"blue","v":0,"x":10.30,"y":-1.05},
{"p":"R","g":"b30d","k":"blue","v":0,"x":10.47,"y":-0.61},{"p":"R","g":"b30d","k":"blue","v":0,"x":10.49,"y":-0.61},{"p":"R","g":"b30d","k":"blue","v":0,"x":10.49,"y":-0.63},{"p":"R","g":"b30d","k":"blue","v":0,"x":10.47,"y":-0.63},{"p":"R","g":"b30d","k":"blue","v":0,"x":10.47,"y":-0.61},
{"p":"R","g":"b45","k":"blue","v":0,"x":10.70,"y":-1.48},{"p":"R","g":"b45","k":"blue","v":0,"x":10.85,"y":-1.40},{"p":"R","g":"b45","k":"blue","v":0,"x":11.00,"y":-1.28},{"p":"R","g":"b45","k":"blue","v":0,"x":11.07,"y":-1.12},{"p":"R","g":"b45","k":"blue","v":0,"x":11.08,"y":-0.95},{"p":"R","g":"b45","k":"blue","v":0,"x":11.03,"y":-0.80},{"p":"R","g":"b45","k":"blue","v":0,"x":10.93,"y":-0.68},{"p":"R","g":"b45","k":"blue","v":0,"x":10.80,"y":-0.62},{"p":"R","g":"b45","k":"blue","v":0,"x":10.66,"y":-0.64},{"p":"R","g":"b45","k":"blue","v":0,"x":10.54,"y":-0.74},{"p":"R","g":"b45","k":"blue","v":0,"x":10.44,"y":-0.90},{"p":"R","g":"b45","k":"blue","v":0,"x":10.36,"y":-1.06},{"p":"R","g":"b45","k":"blue","v":0,"x":10.28,"y":-1.22},{"p":"R","g":"b45","k":"blue","v":0,"x":10.26,"y":-1.36},{"p":"R","g":"b45","k":"blue","v":0,"x":10.32,"y":-1.46},{"p":"R","g":"b45","k":"blue","v":0,"x":10.43,"y":-1.51},{"p":"R","g":"b45","k":"blue","v":0,"x":10.55,"y":-1.52},
{"p":"R","g":"b60","k":"blue","v":0,"x":10.82,"y":-0.79},{"p":"R","g":"b60","k":"blue","v":0,"x":10.92,"y":-0.84},{"p":"R","g":"b60","k":"blue","v":0,"x":10.99,"y":-0.95},{"p":"R","g":"b60","k":"blue","v":0,"x":11.00,"y":-1.08},{"p":"R","g":"b60","k":"blue","v":0,"x":10.94,"y":-1.21},{"p":"R","g":"b60","k":"blue","v":0,"x":10.83,"y":-1.30},{"p":"R","g":"b60","k":"blue","v":0,"x":10.68,"y":-1.37},{"p":"R","g":"b60","k":"blue","v":0,"x":10.52,"y":-1.41},{"p":"R","g":"b60","k":"blue","v":0,"x":10.40,"y":-1.38},{"p":"R","g":"b60","k":"blue","v":0,"x":10.36,"y":-1.29},{"p":"R","g":"b60","k":"blue","v":0,"x":10.41,"y":-1.15},{"p":"R","g":"b60","k":"blue","v":0,"x":10.50,"y":-1.00},{"p":"R","g":"b60","k":"blue","v":0,"x":10.60,"y":-0.88},{"p":"R","g":"b60","k":"blue","v":0,"x":10.69,"y":-0.82},
{"p":"R","g":"b75","k":"blue","v":0,"x":10.64,"y":-0.95},{"p":"R","g":"b75","k":"blue","v":0,"x":10.72,"y":-0.89},{"p":"R","g":"b75","k":"blue","v":0,"x":10.82,"y":-0.88},{"p":"R","g":"b75","k":"blue","v":0,"x":10.90,"y":-0.93},{"p":"R","g":"b75","k":"blue","v":0,"x":10.93,"y":-1.04},{"p":"R","g":"b75","k":"blue","v":0,"x":10.90,"y":-1.15},{"p":"R","g":"b75","k":"blue","v":0,"x":10.81,"y":-1.24},{"p":"R","g":"b75","k":"blue","v":0,"x":10.69,"y":-1.29},{"p":"R","g":"b75","k":"blue","v":0,"x":10.57,"y":-1.30},{"p":"R","g":"b75","k":"blue","v":0,"x":10.50,"y":-1.25},{"p":"R","g":"b75","k":"blue","v":0,"x":10.52,"y":-1.15},{"p":"R","g":"b75","k":"blue","v":0,"x":10.55,"y":-1.08},
{"p":"R","g":"b90","k":"blue","v":0,"x":10.85,"y":-1.22},{"p":"R","g":"b90","k":"blue","v":0,"x":10.76,"y":-1.25},{"p":"R","g":"b90","k":"blue","v":0,"x":10.66,"y":-1.22},{"p":"R","g":"b90","k":"blue","v":0,"x":10.63,"y":-1.14},{"p":"R","g":"b90","k":"blue","v":0,"x":10.66,"y":-1.06},{"p":"R","g":"b90","k":"blue","v":0,"x":10.70,"y":-1.01},{"p":"R","g":"b90","k":"blue","v":0,"x":10.78,"y":-0.96},{"p":"R","g":"b90","k":"blue","v":0,"x":10.86,"y":-0.97},{"p":"R","g":"b90","k":"blue","v":0,"x":10.89,"y":-1.05},
{"p":"R","g":"b105","k":"blue","v":0,"x":10.71,"y":-1.12},{"p":"R","g":"b105","k":"blue","v":0,"x":10.77,"y":-1.08},{"p":"R","g":"b105","k":"blue","v":0,"x":10.82,"y":-1.13},{"p":"R","g":"b105","k":"blue","v":0,"x":10.77,"y":-1.18},{"p":"R","g":"b105","k":"blue","v":0,"x":10.71,"y":-1.12}
],
"labels": [
{"p":"L","t":"10","x":10.675,"y":-0.59,"a":-72},
{"p":"L","t":"20","x":11.17,"y":-1.27,"a":160},
{"p":"L","t":"30","x":10.755,"y":-1.03,"a":-68},
{"p":"L","t":"40","x":11.31,"y":-0.745,"a":28},
{"p":"L","t":"50","x":11.32,"y":-0.94,"a":68},
{"p":"R","t":"15","x":10.0,"y":-0.90,"a":90},
{"p":"R","t":"30","x":10.36,"y":-0.89,"a":-70},
{"p":"R","t":"45","x":10.62,"y":-1.505,"a":-25},
{"p":"R","t":"60","x":10.755,"y":-0.80,"a":-35},
{"p":"R","t":"75","x":10.59,"y":-1.01,"a":-60},
{"p":"R","t":"90","x":10.88,"y":-1.13,"a":-62}
],
"titles": [
{"p":"L","t":"GZ2-GROUP-Q centrals","x":9.11,"y":1.26},
{"p":"R","t":"GZ2-GROUP-Q satellites","x":9.11,"y":1.26}
]
},
"hconcat": [
{
"width": 304, "height": 302,
"resolve": {"axis": {"x": "independent", "y": "independent"}},
"layer": [
{
"data": {"name": "lines"},
"transform": [{"filter": "datum.k == 'gray' && datum.p != 'R'"}],
"mark": {"type": "line", "strokeWidth": 0, "clip": true},
"encoding": {
"x": {"field": "x", "type": "quantitative", "scale": {"domain": [9, 12], "nice": false, "zero": false},
 "axis": {"orient": "bottom", "values": [9, 9.5, 10, 10.5, 11, 11.5, 12], "format": ".1f", "tickSize": -7, "tickColor": "#000", "domain": false, "grid": false, "labelFont": "Liberation Serif", "labelFontSize": 16, "labelColor": "#000", "labelPadding": 7, "labelFlush": false, "labelOverlap": false, "title": "log₁₀[M∗/M⊙]", "titleFont": "Liberation Serif", "titleFontSize": 18, "titleFontWeight": "normal", "titleColor": "#000", "titlePadding": 5}},
"y": {"field": "y", "type": "quantitative", "scale": {"domain": [-2, 1.5], "nice": false, "zero": false},
 "axis": {"orient": "left", "values": [-2, -1.5, -1, -0.5, 0, 0.5, 1, 1.5], "format": ".1f", "tickSize": -7, "tickColor": "#000", "domain": false, "grid": false, "labelFont": "Liberation Serif", "labelFontSize": 16, "labelColor": "#000", "labelPadding": 4, "labelFlush": false, "labelOverlap": false, "title": "log₁₀ S F R [M⊙ / yr⁻¹]", "titleFont": "Liberation Serif", "titleFontSize": 20, "titleFontWeight": "normal", "titleColor": "#000", "titlePadding": 20}},
"detail": {"field": "g", "type": "nominal"},
"order": {"value": null},
"fill": {"field": "v", "type": "ordinal", "scale": {"domain": [1, 2, 3, 4, 5, 6, 7], "range": ["#fafafa", "#f3f3f3", "#eeeeee", "#eaeaea", "#e6e6e6", "#e2e2e2", "#dedede"]}, "legend": null}
}
},
{
"data": {"name": "lines"},
"transform": [{"filter": "datum.p != 'R'"}],
"mark": {"type": "line", "strokeWidth": 1.3, "clip": true},
"encoding": {
"x": {"field": "x", "type": "quantitative", "scale": {"domain": [9, 12], "nice": false, "zero": false},
 "axis": {"orient": "top", "values": [9, 9.5, 10, 10.5, 11, 11.5, 12], "tickSize": -7, "tickColor": "#000", "labels": false, "domain": false, "grid": false, "title": null}},
"y": {"field": "y", "type": "quantitative", "scale": {"domain": [-2, 1.5], "nice": false, "zero": false},
 "axis": {"orient": "right", "values": [-2, -1.5, -1, -0.5, 0, 0.5, 1, 1.5], "tickSize": -7, "tickColor": "#000", "labels": false, "domain": false, "grid": false, "title": null}},
"detail": {"field": "g", "type": "nominal"},
"order": {"value": null},
"color": {"field": "k", "type": "nominal", "scale": {"domain": ["gray", "red", "blue", "solid", "dash"], "range": ["#7a7a7a", "#ff0000", "#0000ff", "#000000", "#000000"]}, "legend": null},
"strokeDash": {"field": "k", "type": "nominal", "scale": {"domain": ["gray", "red", "blue", "solid", "dash"], "range": [[1, 0], [1, 0], [1, 0], [1, 0], [5.5, 3.5]]}, "legend": null}
}
},
{
"data": {"name": "labels"},
"transform": [{"filter": "datum.p == 'L'"}],
"mark": {"type": "text", "color": "#ff0000", "font": "Liberation Serif", "fontSize": 13, "align": "center", "baseline": "middle"},
"encoding": {
"x": {"field": "x", "type": "quantitative", "scale": {"domain": [9, 12], "nice": false, "zero": false},
 "axis": {"orient": "bottom", "values": [9.1, 9.2, 9.3, 9.4, 9.6, 9.7, 9.8, 9.9, 10.1, 10.2, 10.3, 10.4, 10.6, 10.7, 10.8, 10.9, 11.1, 11.2, 11.3, 11.4, 11.6, 11.7, 11.8, 11.9], "tickSize": -3.5, "tickColor": "#000", "labels": false, "domain": false, "grid": false, "title": null}},
"y": {"field": "y", "type": "quantitative", "scale": {"domain": [-2, 1.5], "nice": false, "zero": false},
 "axis": {"orient": "left", "values": [-1.9, -1.8, -1.7, -1.6, -1.4, -1.3, -1.2, -1.1, -0.9, -0.8, -0.7, -0.6, -0.4, -0.3, -0.2, -0.1, 0.1, 0.2, 0.3, 0.4, 0.6, 0.7, 0.8, 0.9, 1.1, 1.2, 1.3, 1.4], "tickSize": -3.5, "tickColor": "#000", "labels": false, "domain": false, "grid": false, "title": null}},
"text": {"field": "t", "type": "nominal"},
"angle": {"field": "a", "type": "quantitative", "scale": null}
}
},
{
"data": {"name": "titles"},
"transform": [{"filter": "datum.p == 'L'"}],
"mark": {"type": "text", "color": "#ff0000", "font": "Liberation Serif", "fontSize": 16, "align": "left", "baseline": "middle"},
"encoding": {
"x": {"field": "x", "type": "quantitative", "scale": {"domain": [9, 12], "nice": false, "zero": false},
 "axis": {"orient": "top", "values": [9.1, 9.2, 9.3, 9.4, 9.6, 9.7, 9.8, 9.9, 10.1, 10.2, 10.3, 10.4, 10.6, 10.7, 10.8, 10.9, 11.1, 11.2, 11.3, 11.4, 11.6, 11.7, 11.8, 11.9], "tickSize": -3.5, "tickColor": "#000", "labels": false, "domain": false, "grid": false, "title": null}},
"y": {"field": "y", "type": "quantitative", "scale": {"domain": [-2, 1.5], "nice": false, "zero": false},
 "axis": {"orient": "right", "values": [-1.9, -1.8, -1.7, -1.6, -1.4, -1.3, -1.2, -1.1, -0.9, -0.8, -0.7, -0.6, -0.4, -0.3, -0.2, -0.1, 0.1, 0.2, 0.3, 0.4, 0.6, 0.7, 0.8, 0.9, 1.1, 1.2, 1.3, 1.4], "tickSize": -3.5, "tickColor": "#000", "labels": false, "domain": false, "grid": false, "title": null}},
"text": {"field": "t", "type": "nominal"}
}
}
]
},
{
"width": 304, "height": 302,
"resolve": {"axis": {"x": "independent", "y": "independent"}},
"layer": [
{
"data": {"name": "lines"},
"transform": [{"filter": "datum.k == 'gray' && datum.p != 'L'"}],
"mark": {"type": "line", "strokeWidth": 0, "clip": true},
"encoding": {
"x": {"field": "x", "type": "quantitative", "scale": {"domain": [9, 12], "nice": false, "zero": false},
 "axis": {"orient": "bottom", "values": [9, 9.5, 10, 10.5, 11, 11.5, 12], "format": ".1f", "tickSize": -7, "tickColor": "#000", "domain": false, "grid": false, "labelFont": "Liberation Serif", "labelFontSize": 16, "labelColor": "#000", "labelPadding": 7, "labelFlush": false, "labelOverlap": false, "title": "log₁₀[M∗/M⊙]", "titleFont": "Liberation Serif", "titleFontSize": 18, "titleFontWeight": "normal", "titleColor": "#000", "titlePadding": 5}},
"y": {"field": "y", "type": "quantitative", "scale": {"domain": [-2, 1.5], "nice": false, "zero": false},
 "axis": {"orient": "left", "values": [-2, -1.5, -1, -0.5, 0, 0.5, 1, 1.5], "format": ".1f", "tickSize": -7, "tickColor": "#000", "domain": false, "grid": false, "labelFont": "Liberation Serif", "labelFontSize": 16, "labelColor": "#000", "labelPadding": 4, "labelFlush": false, "labelOverlap": false, "title": "log₁₀ S F R [M⊙ / yr⁻¹]", "titleFont": "Liberation Serif", "titleFontSize": 20, "titleFontWeight": "normal", "titleColor": "#000", "titlePadding": 20}},
"detail": {"field": "g", "type": "nominal"},
"order": {"value": null},
"fill": {"field": "v", "type": "ordinal", "scale": {"domain": [1, 2, 3, 4, 5, 6, 7], "range": ["#fafafa", "#f3f3f3", "#eeeeee", "#eaeaea", "#e6e6e6", "#e2e2e2", "#dedede"]}, "legend": null}
}
},
{
"data": {"name": "lines"},
"transform": [{"filter": "datum.p != 'L'"}],
"mark": {"type": "line", "strokeWidth": 1.3, "clip": true},
"encoding": {
"x": {"field": "x", "type": "quantitative", "scale": {"domain": [9, 12], "nice": false, "zero": false},
 "axis": {"orient": "top", "values": [9, 9.5, 10, 10.5, 11, 11.5, 12], "tickSize": -7, "tickColor": "#000", "labels": false, "domain": false, "grid": false, "title": null}},
"y": {"field": "y", "type": "quantitative", "scale": {"domain": [-2, 1.5], "nice": false, "zero": false},
 "axis": {"orient": "right", "values": [-2, -1.5, -1, -0.5, 0, 0.5, 1, 1.5], "tickSize": -7, "tickColor": "#000", "labels": false, "domain": false, "grid": false, "title": null}},
"detail": {"field": "g", "type": "nominal"},
"order": {"value": null},
"color": {"field": "k", "type": "nominal", "scale": {"domain": ["gray", "red", "blue", "solid", "dash"], "range": ["#7a7a7a", "#ff0000", "#0000ff", "#000000", "#000000"]}, "legend": null},
"strokeDash": {"field": "k", "type": "nominal", "scale": {"domain": ["gray", "red", "blue", "solid", "dash"], "range": [[1, 0], [1, 0], [1, 0], [1, 0], [5.5, 3.5]]}, "legend": null}
}
},
{
"data": {"name": "labels"},
"transform": [{"filter": "datum.p == 'R'"}],
"mark": {"type": "text", "color": "#0000ff", "font": "Liberation Serif", "fontSize": 13, "align": "center", "baseline": "middle"},
"encoding": {
"x": {"field": "x", "type": "quantitative", "scale": {"domain": [9, 12], "nice": false, "zero": false},
 "axis": {"orient": "bottom", "values": [9.1, 9.2, 9.3, 9.4, 9.6, 9.7, 9.8, 9.9, 10.1, 10.2, 10.3, 10.4, 10.6, 10.7, 10.8, 10.9, 11.1, 11.2, 11.3, 11.4, 11.6, 11.7, 11.8, 11.9], "tickSize": -3.5, "tickColor": "#000", "labels": false, "domain": false, "grid": false, "title": null}},
"y": {"field": "y", "type": "quantitative", "scale": {"domain": [-2, 1.5], "nice": false, "zero": false},
 "axis": {"orient": "left", "values": [-1.9, -1.8, -1.7, -1.6, -1.4, -1.3, -1.2, -1.1, -0.9, -0.8, -0.7, -0.6, -0.4, -0.3, -0.2, -0.1, 0.1, 0.2, 0.3, 0.4, 0.6, 0.7, 0.8, 0.9, 1.1, 1.2, 1.3, 1.4], "tickSize": -3.5, "tickColor": "#000", "labels": false, "domain": false, "grid": false, "title": null}},
"text": {"field": "t", "type": "nominal"},
"angle": {"field": "a", "type": "quantitative", "scale": null}
}
},
{
"data": {"name": "titles"},
"transform": [{"filter": "datum.p == 'R'"}],
"mark": {"type": "text", "color": "#0000ff", "font": "Liberation Serif", "fontSize": 16, "align": "left", "baseline": "middle"},
"encoding": {
"x": {"field": "x", "type": "quantitative", "scale": {"domain": [9, 12], "nice": false, "zero": false},
 "axis": {"orient": "top", "values": [9.1, 9.2, 9.3, 9.4, 9.6, 9.7, 9.8, 9.9, 10.1, 10.2, 10.3, 10.4, 10.6, 10.7, 10.8, 10.9, 11.1, 11.2, 11.3, 11.4, 11.6, 11.7, 11.8, 11.9], "tickSize": -3.5, "tickColor": "#000", "labels": false, "domain": false, "grid": false, "title": null}},
"y": {"field": "y", "type": "quantitative", "scale": {"domain": [-2, 1.5], "nice": false, "zero": false},
 "axis": {"orient": "right", "values": [-1.9, -1.8, -1.7, -1.6, -1.4, -1.3, -1.2, -1.1, -0.9, -0.8, -0.7, -0.6, -0.4, -0.3, -0.2, -0.1, 0.1, 0.2, 0.3, 0.4, 0.6, 0.7, 0.8, 0.9, 1.1, 1.2, 1.3, 1.4], "tickSize": -3.5, "tickColor": "#000", "labels": false, "domain": false, "grid": false, "title": null}},
"text": {"field": "t", "type": "nominal"}
}
}
]
}
]
}
